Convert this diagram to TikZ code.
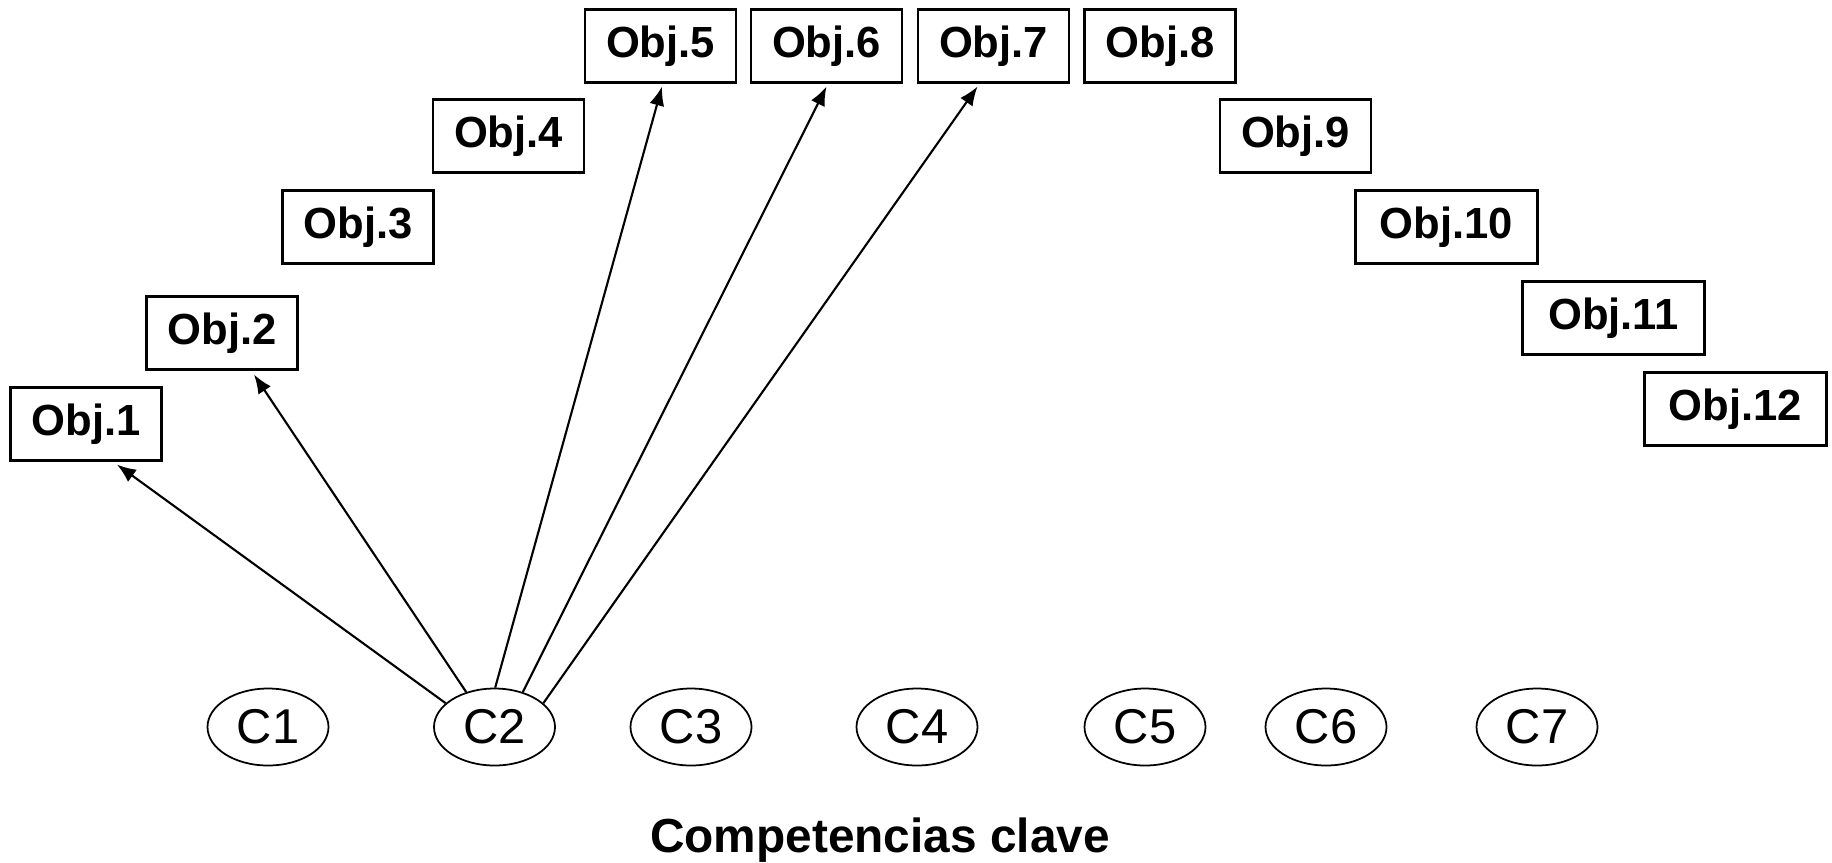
\documentclass[tikz,border=0pt]{standalone}
\usepackage{fontspec}
\setmainfont{Liberation Sans}
\usetikzlibrary{arrows.meta, shapes.geometric}

\tikzset{
    objbox/.style = {draw, line width=0.6pt, inner sep=0pt, minimum width=15.1mm, minimum height=7.3mm,
        font=\fontsize{12.4}{14}\selectfont\bfseries},
    widebox/.style = {objbox, minimum width=18.2mm},
    comp/.style = {draw, ellipse, line width=0.5pt, inner sep=0pt, minimum width=12.1mm, minimum height=7.7mm,
        font=\fontsize{13.9}{16}\selectfont},
    link/.style = {-{Latex[length=1.9mm, width=1.5mm]}, line width=0.6pt}
}

\begin{document}
\begin{tikzpicture}[x=0.1mm, y=-0.1mm]
        \useasboundingbox (0, 0) rectangle (1832, 862);
        % objetivos
        \node[objbox] (O1) at (86, 424) {Obj.1};
        \node[objbox] (O2) at (222, 333) {Obj.2};
        \node[objbox] (O3) at (358, 227) {Obj.3};
        \node[objbox] (O4) at (508.5, 136) {Obj.4};
        \node[objbox] (O5) at (660.5, 46) {Obj.5};
        \node[objbox] (O6) at (826.5, 46) {Obj.6};
        \node[objbox] (O7) at (993.5, 46) {Obj.7};
        \node[objbox] (O8) at (1160, 46) {Obj.8};
        \node[objbox] (O9) at (1295.5, 136) {Obj.9};
        \node[widebox] (O10) at (1446.5, 227) {Obj.10};
        \node[widebox] (O11) at (1613.5, 318) {Obj.11};
        \node[widebox] (O12) at (1735.5, 409) {Obj.12};
        % competencias
        \node[comp] (C1) at (268, 727) {C1};
        \node[comp] (C2) at (494.5, 727) {C2};
        \node[comp] (C3) at (691, 727) {C3};
        \node[comp] (C4) at (917, 727) {C4};
        \node[comp] (C5) at (1145, 727) {C5};
        \node[comp] (C6) at (1326, 727) {C6};
        \node[comp] (C7) at (1537, 727) {C7};
        \node[anchor=base, font=\fontsize{13.6}{16}\selectfont\bfseries] (title) at (880, 852) {Competencias clave};
        % C2 -> objetivos
        \draw[link] (C2.154) -- ([xshift=3.1mm, yshift=-0.3mm]O1.south);
        \draw[link] (C2.129) -- ([xshift=3.2mm, yshift=-0.4mm]O2.south);
        \draw[link] (C2.89) -- ([xshift=0.15mm, yshift=-0.3mm]O5.south);
        \draw[link] (C2.51) -- ([yshift=-0.3mm]O6.south);
        \draw[link] (C2.26) -- ([xshift=-1.6mm, yshift=-0.3mm]O7.south);
    \end{tikzpicture}
\end{document}
